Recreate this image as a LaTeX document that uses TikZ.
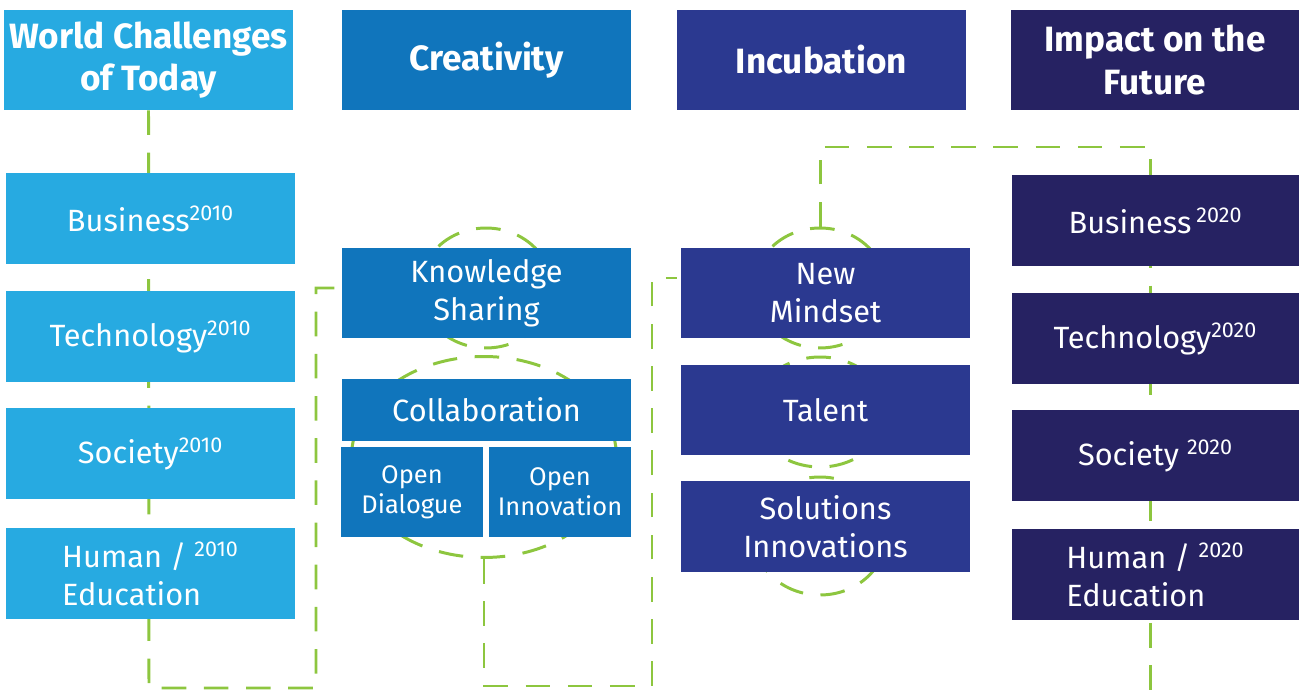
\documentclass[tikz,border=0pt]{standalone}
\usepackage{fontspec}
\setmainfont{Fira Sans}
\usetikzlibrary{shapes.geometric}
\definecolor{today}{RGB}{39,170,225}
\definecolor{create}{RGB}{16,117,188}
\definecolor{incub}{RGB}{43,57,144}
\definecolor{future}{RGB}{38,34,98}
\definecolor{leaf}{RGB}{141,198,63}
\tikzstyle{header} = [rectangle, minimum width=5.78cm, minimum height=2cm, align=center, text=white, inner sep=0pt, font=\fontsize{20}{24}\selectfont\bfseries]
\tikzstyle{block} = [rectangle, minimum width=5.78cm, minimum height=1.82cm, align=center, text=white, inner sep=0pt, font=\fontsize{17.5}{21.5}\selectfont]
\tikzstyle{small} = [rectangle, minimum width=2.84cm, minimum height=1.8cm, align=center, text=white, inner sep=0pt, font=\fontsize{14.5}{17}\selectfont]
\tikzstyle{ring} = [ellipse, draw=leaf, line width=1.7pt, dash pattern=on 14pt off 10pt, inner sep=0pt]
\tikzstyle{link} = [draw=leaf, line width=1.7pt, dash pattern=on 14pt off 10pt]
\newcommand{\yr}[1]{\textsuperscript{#1}}

\begin{document}
\begin{tikzpicture}[x=0.02cm, y=-0.02cm]
\useasboundingbox (0,0) rectangle (1299,695);

% Headers
\node (head1) [header, fill=today] at (148.5,60) {World Challenges\\of Today};
\node (head2) [header, fill=create] at (486.5,60) {Creativity};
\node (head3) [header, fill=incub] at (821.5,60) {Incubation};
\node (head4) [header, fill=future, minimum width=5.76cm] at (1155,60) {Impact on the\\Future};

% Rings
\node (ringks) [ring, minimum width=2.64cm, minimum height=2.4cm] at (486,288) {};
\node (ringco) [ring, minimum width=5.3cm, minimum height=4.02cm] at (484,457) {};
\node (ringnm) [ring, minimum width=2.64cm, minimum height=2.4cm] at (820,288) {};
\node (ringta) [ring, minimum width=2.64cm, minimum height=2.2cm] at (820,412) {};
\node (ringso) [ring, minimum width=2.64cm, minimum height=2.36cm] at (820,536) {};

% Coordinates
\coordinate (bot1) at (149,688);
\coordinate (rise1) at (316,688);
\coordinate (bot2) at (484,686);
\coordinate (rise2) at (652,686);
\coordinate (top3) at (820,147);
\coordinate (end4) at (1150,700);

% Links
\draw [link] (head1.south) -- (bot1) -- (rise1) |- (ringks.west -| head2.west);
\draw [link] (ringco.south) -- (bot2) -- (rise2) |- ([yshift=0.2cm]ringnm.west -| head3.west);
\draw [link] (ringnm.north) -- (top3) -| (end4);

% Today
\node (bus1) [block, fill=today] at (150.5,218.5) {Business\yr{2010}};
\node (tech1) [block, fill=today] at (150.5,336.5) {Technology\yr{2010}};
\node (soc1) [block, fill=today] at (150.5,453.5) {Society\yr{2010}};
\node (hum1) [block, fill=today, align=left] at (150.5,573.5) {Human / \yr{2010}\\Education};

% Creativity
\node (ks) [block, fill=create] at (486.5,293) {Knowledge\\Sharing};
\node (collab) [block, fill=create, minimum height=1.24cm] at (486.5,410) {Collaboration};
\node (dialog) [small, fill=create] at (412,492) {Open\\Dialogue};
\node (openinno) [small, fill=create] at (560,492) {Open\\Innovation};

% Incubation
\node (mind) [block, fill=incub] at (825.5,293) {New\\Mindset};
\node (talent) [block, fill=incub] at (825.5,410) {Talent};
\node (sol) [block, fill=incub] at (825.5,526.5) {Solutions\\Innovations};

% Future
\node (bus2) [block, fill=future, minimum width=5.74cm] at (1155.5,220.5) {Business\,\yr{2020}};
\node (tech2) [block, fill=future, minimum width=5.74cm] at (1155.5,338.5) {Technology\yr{2020}};
\node (soc2) [block, fill=future, minimum width=5.74cm] at (1155.5,455.5) {Society \yr{2020}};
\node (hum2) [block, fill=future, minimum width=5.74cm, align=left] at (1155.5,574.5) {Human / \yr{2020}\\Education};

\end{tikzpicture}
\end{document}
